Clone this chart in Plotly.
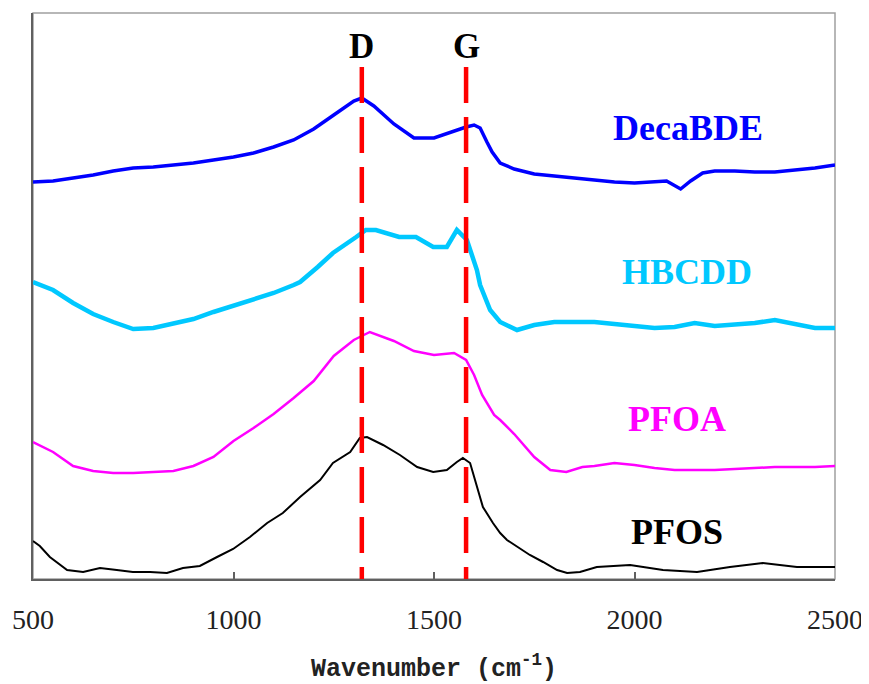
import plotly.graph_objects as go

# ---- data (y in arbitrary offset intensity units) ----
deca_x = [500, 550, 600, 650, 700, 750, 800, 850, 900, 950, 1000, 1050, 1100, 1150, 1200,
          1250, 1300, 1320, 1350, 1400, 1450, 1500, 1550, 1580, 1600, 1615, 1632, 1645,
          1665, 1700, 1750, 1800, 1850, 1900, 1950, 2000, 2050, 2080, 2115, 2140, 2170,
          2200, 2250, 2300, 2350, 2400, 2450, 2500]
deca_y = [397, 398, 401, 404, 408, 411, 412, 414, 416, 419, 422, 426, 432, 439, 450,
          464, 478, 481, 473, 455, 441, 441, 448, 452, 454, 451, 437, 427,
          416, 410, 405, 403, 401, 399, 397, 396, 397, 398, 390, 398, 406,
          408, 408, 407, 407, 409, 411, 414]

hbcdd_x = [500, 550, 600, 650, 700, 750, 800, 850, 900, 950, 1000, 1050, 1100, 1150, 1166,
           1210, 1248, 1306, 1330, 1355, 1413, 1455, 1498, 1532, 1557, 1582, 1607, 1615,
           1640, 1665, 1707, 1750, 1800, 1850, 1900, 1950, 2000, 2050, 2100, 2150, 2200,
           2250, 2300, 2350, 2400, 2450, 2500]
hbcdd_y = [297, 289, 276, 265, 257, 250, 251, 255, 260, 267, 273, 279, 286, 294, 297,
           312, 326, 342, 349, 349, 342, 342, 332, 332, 349, 339, 309, 294,
           269, 257, 249, 254, 257, 257, 257, 255, 253, 251, 252, 256, 253,
           254, 256, 259, 255, 251, 251]

pfoa_x = [500, 550, 600, 650, 700, 750, 800, 850, 900, 950, 1000, 1050, 1100, 1150, 1200,
          1250, 1300, 1340, 1400, 1450, 1500, 1550, 1580, 1600, 1620, 1650, 1665, 1700,
          1750, 1790, 1830, 1870, 1900, 1950, 2000, 2050, 2100, 2150, 2200, 2250, 2300,
          2350, 2400, 2450, 2500]
pfoa_y = [137, 127, 113, 108, 106, 106, 107, 108, 113, 122, 138, 151, 165, 181, 198,
          223, 239, 247, 238, 228, 224, 226, 219, 204, 184, 164, 159, 145,
          122, 109, 107, 112, 113, 116, 114, 111, 109, 109, 109, 110, 111,
          112, 112, 112, 113]

pfos_x = [500, 517, 542, 585, 625, 667, 709, 749, 792, 834, 874, 916, 959, 999, 1041,
          1084, 1123, 1166, 1216, 1248, 1291, 1315, 1333, 1373, 1415, 1458, 1498, 1532,
          1557, 1572, 1590, 1607, 1622, 1647, 1665, 1682, 1739, 1772, 1807, 1832, 1864,
          1906, 1989, 2071, 2156, 2238, 2320, 2405, 2500]
pfos_y = [38, 33, 22, 9, 7, 11, 9, 7, 7, 6, 11, 13, 22, 30, 42,
          56, 66, 82, 99, 116, 127, 141, 142, 134, 124, 112, 107, 109,
          117, 121, 116, 92, 72, 56, 46, 39, 24, 17, 9, 6, 7,
          12, 14, 9, 7, 12, 16, 12, 12]

band_positions = [1320, 1580]
band_labels = ["D", "G"]
series_names = ["DecaBDE", "HBCDD", "PFOA", "PFOS"]
series_colors = ["#0000FF", "#00C8FF", "#FF00FF", "#000000"]
label_x = [2133, 2131, 2106, 2106]
label_y = [451, 307, 160, 47]

x_ticks = [500, 1000, 1500, 2000, 2500]

fig = go.Figure()
series = [(deca_x, deca_y, 3.5), (hbcdd_x, hbcdd_y, 4.5), (pfoa_x, pfoa_y, 2.5), (pfos_x, pfos_y, 2)]
for (xs, ys, w), name, col in zip(series, series_names, series_colors):
    fig.add_trace(go.Scatter(x=xs, y=ys, mode="lines", name=name,
                             line=dict(color=col, width=w), showlegend=False))

# plot border (light gray top/right)
fig.add_shape(type="rect", xref="paper", yref="paper", x0=0, y0=0, x1=1, y1=1,
              line=dict(color="#A0A0A0", width=1.5), layer="below")

for bx, bl in zip(band_positions, band_labels):
    fig.add_shape(type="line", x0=bx, x1=bx, y0=512, y1=0, xref="x", yref="y",
                  line=dict(color="#FF0000", width=4.5, dash="36px,14px"), layer="above")
    fig.add_annotation(x=bx, y=533, text="<b>%s</b>" % bl, showarrow=False,
                       xanchor="center", yanchor="middle",
                       font=dict(family="Liberation Serif", size=35, color="black"))

for name, col, lx, ly in zip(series_names, series_colors, label_x, label_y):
    fig.add_annotation(x=lx, y=ly, text="<b>%s</b>" % name, showarrow=False,
                       xanchor="center", yanchor="middle",
                       font=dict(family="Liberation Serif", size=36, color=col))

# page body has an 8px margin in the browser: compensate so the plot lands where the reference has it
fig.update_layout(
    width=861, height=676,
    margin=dict(l=25, r=34, t=5, b=105),
    paper_bgcolor="white", plot_bgcolor="white",
    xaxis=dict(range=[500, 2500], tickvals=x_ticks, ticktext=[str(v) for v in x_ticks],
               automargin=False, ticklabeloverflow="allow",
               showgrid=False, zeroline=False, showline=True, linecolor="#606060",
               linewidth=2, ticks="inside", ticklen=7, tickwidth=1.5, tickcolor="#606060",
               ticklabelstandoff=14,
               tickfont=dict(family="Liberation Serif", size=28, color="#222222"),
               title=dict(text="<b>Wavenumber (cm<sup>-1</sup>)</b>", standoff=40,
                          font=dict(family="Liberation Mono", size=25, color="#222222"))),
    yaxis=dict(range=[0, 566], showgrid=False, zeroline=False, showticklabels=False,
               automargin=False,
               showline=True, linecolor="#606060", linewidth=2, ticks=""),
)

fig.write_html("out.html")
